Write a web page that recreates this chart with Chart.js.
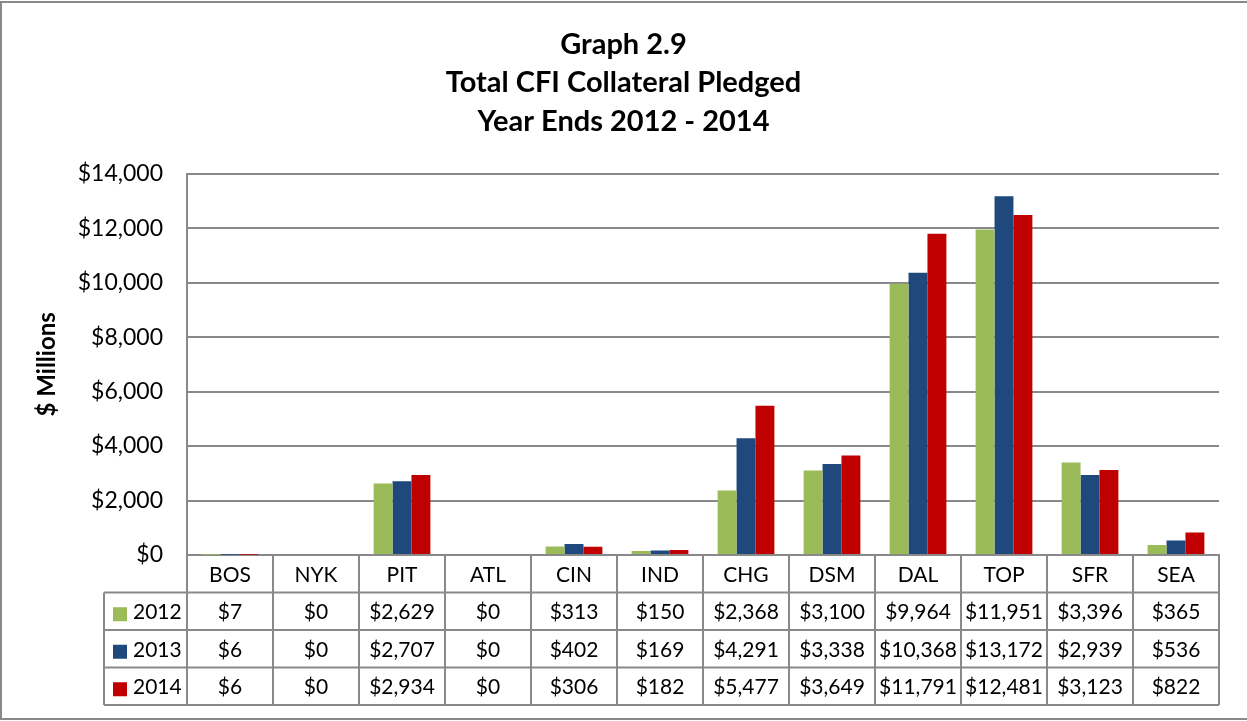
<!DOCTYPE html>
<html>
<head>
<meta charset="utf-8">
<script src="https://cdn.jsdelivr.net/npm/chart.js@4/dist/chart.umd.min.js"></script>
<style>
  html, body { margin: 0; padding: 0; background: #fff; }
  canvas { display: block; }
</style>
</head>
<body>
<canvas id="myChart" width="1247" height="721"></canvas>
<script>
// data ($ millions)
var districts = ['BOS', 'NYK', 'PIT', 'ATL', 'CIN', 'IND', 'CHG', 'DSM', 'DAL', 'TOP', 'SFR', 'SEA'];
var years = ['2012', '2013', '2014'];
var values2012 = [7, 0, 2629, 0, 313, 150, 2368, 3100, 9964, 11951, 3396, 365];
var values2013 = [6, 0, 2707, 0, 402, 169, 4291, 3338, 10368, 13172, 2939, 536];
var values2014 = [6, 0, 2934, 0, 306, 182, 5477, 3649, 11791, 12481, 3123, 822];
var yearColors = ['#9BBB59', '#1F497D', '#C00000'];
var titleLines = ['Graph 2.9', 'Total CFI Collateral Pledged', 'Year Ends 2012 - 2014'];
var yAxisLabel = '$ Millions';

var FONT = 'Lato, "Open Sans", sans-serif';
var LINE = '#898989';

function money(v) {
  return '$' + Number(v).toLocaleString('en-US');
}

var seriesValues = [values2012, values2013, values2014];

// outer frame of the picture
var frame = {
  id: 'frame',
  beforeDraw: function (chart) {
    var ctx = chart.ctx;
    ctx.save();
    ctx.fillStyle = '#fff';
    ctx.fillRect(0, 0, chart.width, chart.height);
    ctx.strokeStyle = LINE;
    ctx.lineWidth = 2;
    ctx.strokeRect(1, 2, chart.width + 10, chart.height - 4);
    ctx.restore();
  }
};

// data table under the x axis, with the legend keys in the first column
var dataTable = {
  id: 'dataTable',
  afterDraw: function (chart) {
    var ctx = chart.ctx;
    var area = chart.chartArea;
    var xs = chart.scales.x;
    var rowH = 37.5;
    var keyLeft = 104;
    var top = area.bottom;
    var colW = (area.right - area.left) / districts.length;

    ctx.save();
    ctx.strokeStyle = LINE;
    ctx.lineWidth = 2;
    ctx.beginPath();
    for (var r = 1; r <= 4; r++) {
      var y = top + r * rowH;
      ctx.moveTo(keyLeft, y);
      ctx.lineTo(area.right, y);
    }
    for (var i = 0; i <= districts.length; i++) {
      var x = area.left + i * colW;
      ctx.moveTo(x, top);
      ctx.lineTo(x, top + 4 * rowH);
    }
    ctx.moveTo(keyLeft, top + rowH);
    ctx.lineTo(keyLeft, top + 4 * rowH);
    ctx.stroke();

    ctx.fillStyle = '#000';
    ctx.font = '21px ' + FONT;
    ctx.textAlign = 'center';
    ctx.textBaseline = 'middle';
    districts.forEach(function (d, i) {
      ctx.fillText(d, xs.getPixelForValue(i), top + rowH / 2 + 1);
    });

    years.forEach(function (yr, s) {
      var cy = top + (s + 1.5) * rowH + 1;
      ctx.fillStyle = yearColors[s];
      ctx.fillRect(keyLeft + 9, cy - 5, 14, 14);
      ctx.fillStyle = '#000';
      ctx.textAlign = 'left';
      ctx.fillText(yr, keyLeft + 29, cy);
      ctx.textAlign = 'center';
      seriesValues[s].forEach(function (v, i) {
        ctx.fillText(money(v), xs.getPixelForValue(i), cy);
      });
    });
    ctx.restore();
  }
};

var ctx = document.getElementById('myChart').getContext('2d');
var myChart = new Chart(ctx, {
  type: 'bar',
  data: {
    labels: districts,
    datasets: years.map(function (yr, s) {
      return {
        label: yr,
        data: seriesValues[s],
        backgroundColor: yearColors[s],
        borderWidth: 0,
        barPercentage: 1,
        categoryPercentage: 0.66
      };
    })
  },
  options: {
    responsive: false,
    animation: false,
    layout: { padding: { top: 0, left: 0, right: 0, bottom: 166 } },
    plugins: {
      legend: { display: false },
      tooltip: { enabled: false },
      title: {
        display: true,
        text: titleLines,
        color: '#000',
        font: { family: FONT, size: 29, weight: 'bold', lineHeight: 1.33 },
        padding: { top: 25, bottom: 33 }
      }
    },
    scales: {
      x: {
        grid: { display: false, drawTicks: false },
        border: { display: true, color: LINE, width: 2 },
        ticks: { display: false }
      },
      y: {
        min: 0,
        max: 14000,
        afterFit: function (scale) { scale.width = 187; },
        grid: { color: LINE, lineWidth: 2, drawTicks: false },
        border: { display: true, color: LINE, width: 2 },
        ticks: {
          stepSize: 2000,
          padding: 24,
          color: '#000',
          font: { family: FONT, size: 23 },
          callback: function (v) { return money(v); }
        },
        title: {
          display: true,
          text: yAxisLabel,
          color: '#000',
          font: { family: FONT, size: 24, weight: 'bold' },
          padding: { top: 33, bottom: 0 }
        }
      },
      // empty right-hand margin so the title stays centred on the whole picture
      yRight: {
        position: 'right',
        min: 0,
        max: 14000,
        afterFit: function (scale) { scale.width = 28; },
        grid: { display: false, drawTicks: false },
        border: { display: false },
        ticks: { display: false }
      }
    }
  },
  plugins: [frame, dataTable]
});
</script>
</body>
</html>
